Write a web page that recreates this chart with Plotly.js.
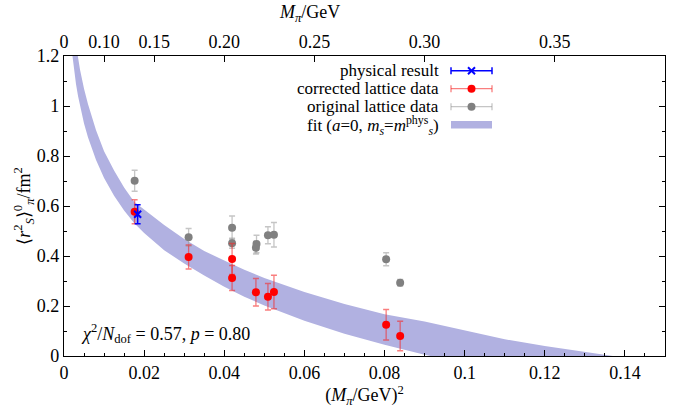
<!DOCTYPE html>
<html>
<head>
<meta charset="utf-8">
<script src="https://cdn.plot.ly/plotly-3.0.1.min.js"></script>
<style>html,body{margin:0;padding:0;background:#fff;}#chart{width:693px;height:416px;}</style>
</head>
<body>
<div id="chart"></div>
<script>
// ---- data ----
// original lattice data (grey)
const origX   = [0.01763, 0.0311, 0.04195, 0.04195, 0.0479, 0.04805, 0.0509, 0.0524, 0.0804, 0.0839];
const origY   = [0.701, 0.475, 0.513, 0.451, 0.433, 0.448, 0.483, 0.485, 0.387, 0.293];
const origErr = [0.042, 0.035, 0.047, 0.020, 0.025, 0.035, 0.034, 0.049, 0.026, 0.013];
// corrected lattice data (red)
const corrX   = [0.01763, 0.0311, 0.04195, 0.04195, 0.0479, 0.0509, 0.0524, 0.0804, 0.0839];
const corrY   = [0.577, 0.396, 0.388, 0.312, 0.255, 0.237, 0.256, 0.125, 0.080];
const corrErr = [0.048, 0.048, 0.062, 0.050, 0.055, 0.053, 0.067, 0.061, 0.059];
// physical result (blue)
const physX   = [0.01838];
const physY   = [0.567];
const physErr = [0.038];
// fit band (a=0, ms=ms^phys), edges
const bandX     = [0.0015,0.002,0.0025,0.003,0.0035,0.004,0.005,0.006,0.008,0.010,0.0125,0.015,0.0175,0.020,0.025,0.030,0.035,0.040,0.045,0.050,0.060,0.070,0.080,0.090,0.100,0.110,0.120,0.130,0.137];
const bandUpper = [1.47,1.378,1.31,1.245,1.195,1.145,1.069,1.007,0.903,0.819,0.742,0.674,0.617,0.585,0.524,0.468,0.42,0.382,0.345,0.312,0.256,0.208,0.167,0.138,0.104,0.067,0.040,0.015,0.0];
const bandLower = [1.30,1.215,1.141,1.087,1.04,1.001,0.930,0.874,0.784,0.712,0.641,0.582,0.532,0.492,0.423,0.37,0.322,0.277,0.237,0.202,0.141,0.089,0.045,0.005,-0.03,-0.06,-0.09,-0.12,-0.14];
// top axis: M_pi / GeV tick labels
const topTickM    = [0, 0.10, 0.15, 0.20, 0.25, 0.30, 0.35];
const topTickText = ["0", "0.10", "0.15", "0.20", "0.25", "0.30", "0.35"];
// legend labels
const legendLabels = [
  "physical result",
  "corrected lattice data",
  "original lattice data",
  "fit (<i>a</i>=0, <i>m<sub>s</sub></i>=<i>m</i><sup>phys</sup><sub><i>s</i></sub>)"
];

// ---- styling ----
const FONT = "Liberation Serif, Times New Roman, serif";
const FS = 18, LFS = 17;
const bandColor = "#b1b1e1";
const W = 693, H = 416, ML = 64, MR = 28, MT = 56, MB = 60;
const PW = W - ML - MR, PH = H - MT - MB;
const px = v => (v - ML) / PW;
const py = v => (H - MB - v) / PH;

const traces = [
  {
    x: bandX.concat(bandX.slice().reverse()),
    y: bandUpper.concat(bandLower.slice().reverse()),
    type: "scatter", mode: "lines", fill: "toself",
    fillcolor: bandColor, line: {width: 0, color: bandColor},
    hoverinfo: "skip", showlegend: false
  },
  {
    x: origX, y: origY, type: "scatter", mode: "markers",
    marker: {color: "#808080", size: 8},
    error_y: {type: "data", array: origErr, color: "rgba(150,150,150,0.55)", thickness: 1.3, width: 3},
    showlegend: false
  },
  {
    x: corrX, y: corrY, type: "scatter", mode: "markers",
    marker: {color: "#ff0000", size: 8},
    error_y: {type: "data", array: corrErr, color: "rgba(245,40,40,0.6)", thickness: 1.3, width: 3},
    showlegend: false
  },
  {
    x: physX, y: physY, type: "scatter", mode: "markers",
    marker: {color: "#0000ff", size: 7, symbol: "x-thin-open", line: {color: "#0000ff", width: 2}},
    error_y: {type: "data", array: physErr, color: "#0000ff", thickness: 1.5, width: 3},
    showlegend: false
  },
  // invisible trace to activate the top axis
  {
    x: [0, 0.15], y: [0, 0], xaxis: "x2", type: "scatter", mode: "markers",
    marker: {opacity: 0}, hoverinfo: "skip", showlegend: false
  }
];

// legend (gnuplot style: text right-aligned, sample on the right)
const rowsY = [70.7, 88.7, 106.7, 125];
const sx0 = 451, sx1 = 492, sxc = 471.5;
const shapes = [];
const annotations = [];
legendLabels.forEach((t, i) => {
  annotations.push({
    xref: "paper", yref: "paper", x: px(441), y: py(rowsY[i]),
    xanchor: "right", yanchor: "middle", showarrow: false,
    text: t, font: {family: FONT, size: LFS, color: "#000"}
  });
});
function errSample(yv, color, w) {
  shapes.push({type: "line", xref: "paper", yref: "paper", x0: px(sx0), x1: px(sx1), y0: py(yv), y1: py(yv), line: {color: color, width: w}});
  shapes.push({type: "line", xref: "paper", yref: "paper", x0: px(sx0), x1: px(sx0), y0: py(yv - 3.5), y1: py(yv + 3.5), line: {color: color, width: w}});
  shapes.push({type: "line", xref: "paper", yref: "paper", x0: px(sx1), x1: px(sx1), y0: py(yv - 3.5), y1: py(yv + 3.5), line: {color: color, width: w}});
}
errSample(rowsY[0], "#0000ff", 1.5);
shapes.push({type: "line", xref: "paper", yref: "paper", x0: px(sxc - 3.5), x1: px(sxc + 3.5), y0: py(rowsY[0] - 3.5), y1: py(rowsY[0] + 3.5), line: {color: "#0000ff", width: 2}});
shapes.push({type: "line", xref: "paper", yref: "paper", x0: px(sxc - 3.5), x1: px(sxc + 3.5), y0: py(rowsY[0] + 3.5), y1: py(rowsY[0] - 3.5), line: {color: "#0000ff", width: 2}});
errSample(rowsY[1], "rgba(245,40,40,0.6)", 1.3);
shapes.push({type: "circle", xref: "paper", yref: "paper", x0: px(sxc - 4), x1: px(sxc + 4), y0: py(rowsY[1] + 4), y1: py(rowsY[1] - 4), fillcolor: "#ff0000", line: {width: 0}});
errSample(rowsY[2], "rgba(150,150,150,0.55)", 1.3);
shapes.push({type: "circle", xref: "paper", yref: "paper", x0: px(sxc - 4), x1: px(sxc + 4), y0: py(rowsY[2] + 4), y1: py(rowsY[2] - 4), fillcolor: "#808080", line: {width: 0}});
shapes.push({type: "rect", xref: "paper", yref: "paper", x0: px(sx0), x1: px(sx1), y0: py(128.5), y1: py(121), fillcolor: bandColor, line: {width: 0}});

// chi^2 annotation
annotations.push({
  xref: "paper", yref: "paper", x: px(79), y: py(333), xanchor: "left", yanchor: "middle",
  showarrow: false, text: "<i>χ</i><sup>2</sup>/<i>N</i><sub>dof</sub> = 0.57, <i>p</i> = 0.80",
  font: {family: FONT, size: FS, color: "#000"}
});
// top axis title
annotations.push({
  xref: "paper", yref: "paper", x: px(309), y: py(13), xanchor: "center", yanchor: "middle",
  showarrow: false, text: "<i>M</i><sub><i>π</i></sub>/GeV",
  font: {family: FONT, size: FS, color: "#000"}
});

const layout = {
  width: W, height: H,
  margin: {l: ML, r: MR, t: MT, b: MB, pad: 0},
  paper_bgcolor: "#fff", plot_bgcolor: "#fff",
  showlegend: false,
  font: {family: FONT, size: FS, color: "#000"},
  xaxis: {
    range: [0, 0.15], showgrid: false, zeroline: false,
    showline: true, linecolor: "#000", linewidth: 1.2,
    ticks: "inside", ticklen: 6, tickcolor: "#000", tickwidth: 1,
    dtick: 0.02, tick0: 0,
    minor: {dtick: 0.005, ticks: "inside", ticklen: 3, tickcolor: "#000", showgrid: false},
    tickfont: {family: FONT, size: FS},
    title: {text: "(<i>M</i><sub><i>π</i></sub>/GeV)<sup>2</sup>", font: {family: FONT, size: FS}, standoff: 6}
  },
  xaxis2: {
    overlaying: "x", side: "top", range: [0, 0.15], anchor: "y",
    showgrid: false, zeroline: false,
    showline: true, linecolor: "#000", linewidth: 1.2,
    ticks: "inside", ticklen: 6, tickcolor: "#000",
    tickmode: "array", tickvals: topTickM.map(m => m * m), ticktext: topTickText,
    tickfont: {family: FONT, size: FS}
  },
  yaxis: {
    range: [0, 1.2], showgrid: false, zeroline: false,
    showline: true, linecolor: "#000", linewidth: 1.2, mirror: "ticks",
    ticks: "inside", ticklen: 6, tickcolor: "#000",
    dtick: 0.2, tick0: 0,
    minor: {dtick: 0.1, ticks: "inside", ticklen: 3, tickcolor: "#000", showgrid: false},
    tickfont: {family: FONT, size: FS},
    title: {text: "⟨<i>r</i><sup>2</sup><sub><i>S</i></sub>⟩<sup>0</sup><sub><i>π</i></sub>/fm<sup>2</sup>", font: {family: FONT, size: FS}, standoff: 1}
  },
  shapes: shapes,
  annotations: annotations
};

Plotly.newPlot("chart", traces, layout, {staticPlot: true, displayModeBar: false});
</script>
</body>
</html>
